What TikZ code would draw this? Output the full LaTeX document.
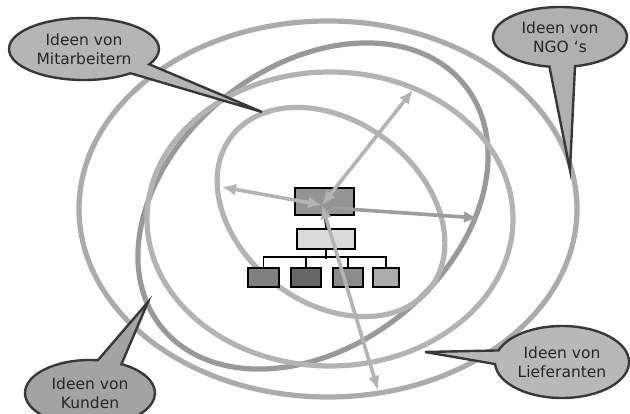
\documentclass[tikz,border=0pt]{standalone}
\usepackage{fontspec}
\setmainfont{DejaVu Sans}
\usetikzlibrary{shapes.callouts,arrows.meta}
\definecolor{ringA}{HTML}{ABABAB}
\definecolor{ringB}{HTML}{999999}
\definecolor{ringC}{HTML}{B3B3B3}
\definecolor{arrL}{HTML}{B3B3B3}
\definecolor{arrD}{HTML}{9C9C9C}
\definecolor{cborder}{HTML}{383838}
\begin{document}
\begin{tikzpicture}[x=1pt,y=-1pt,
  ring/.style={line width=5.2pt},
  arr/.style={line width=3.6pt, arrL, {Latex[length=14pt,width=12pt]}-{Latex[length=14pt,width=12pt]}},
  orgbox/.style={draw=black, line width=2.2pt, inner sep=0pt},
  orgline/.style={draw=black, line width=1.5pt},
  bubble/.style={ellipse callout, draw=cborder, line width=2.4pt, inner sep=0pt,
    callout pointer arc=22, align=center, text=black!85,
    font=\fontsize{15.5}{19.5}\selectfont}]
\clip (0,0) rectangle (630,414);

% rings
\draw[ring, ringA] (328,209) ellipse [x radius=249, y radius=188];
\draw[ring, ringB, rotate around={38.5:(313,206)}] (313,206) ellipse [x radius=194, y radius=140];
\draw[ring, ringC] (330,219) ellipse [x radius=183, y radius=147];
\draw[ring, ringC, rotate around={-37:(331,212)}] (331,212) ellipse [x radius=125, y radius=91];

% org chart
\node[orgbox, fill=black!42, minimum width=59, minimum height=27] (top) at (324.5,201.5) {};
\node[orgbox, fill=black!14, minimum width=58, minimum height=20] (mid) at (326,239) {};
\node[orgbox, fill=black!50, minimum width=31, minimum height=19] (b1) at (263.5,277.5) {};
\node[orgbox, fill=black!60, minimum width=30, minimum height=19] (b2) at (306,277.5) {};
\node[orgbox, fill=black!45, minimum width=30, minimum height=19] (b3) at (348,277.5) {};
\node[orgbox, fill=black!33, minimum width=26, minimum height=19] (b4) at (386,277.5) {};
\draw[orgline] (top.south) -- (mid.north);
\draw[orgline] (mid.south) -- ++(0,9);
\draw[orgline] (b1.north) -- ++(0,-10) -| (b4.north);
\draw[orgline] (b2.north) -- ++(0,-10);
\draw[orgline] (b3.north) -- ++(0,-10);

% arrows
\coordinate (hub) at (322,205);
\coordinate (hubR) at (332,208);
\coordinate (tipL) at (222,187);
\coordinate (tipU) at (413,90);
\coordinate (tipR) at (478,218);
\coordinate (tipD) at (378,390);
\draw[arr] (hub) -- (tipL);
\draw[arr] (hub) -- (tipU);
\draw[arr] (hub) -- (tipD);
\draw[line width=3.6pt, arrD, -{Latex[length=14pt,width=12pt]}] (hubR) -- (tipR);

% callouts
\coordinate (pMit) at (262,112);
\coordinate (pNgo) at (570,170);
\coordinate (pKun) at (148,302);
\coordinate (pLie) at (425,352);
\node[bubble, fill=black!29, minimum width=150, minimum height=62, callout absolute pointer={(pMit)}] (mit) at (84,49) {Ideen von\\Mitarbeitern};
\node[bubble, fill=black!31, minimum width=134, minimum height=60, callout absolute pointer={(pNgo)}] (ngo) at (560,37) {Ideen von\\NGO ‘s};
\node[bubble, fill=black!36, minimum width=130, minimum height=66, callout absolute pointer={(pKun)}] (kun) at (90,393) {Ideen von\\Kunden};
\node[bubble, fill=black!28, minimum width=134, minimum height=72, callout absolute pointer={(pLie)}] (lie) at (562,362) {Ideen von\\Lieferanten};
\end{tikzpicture}
\end{document}
